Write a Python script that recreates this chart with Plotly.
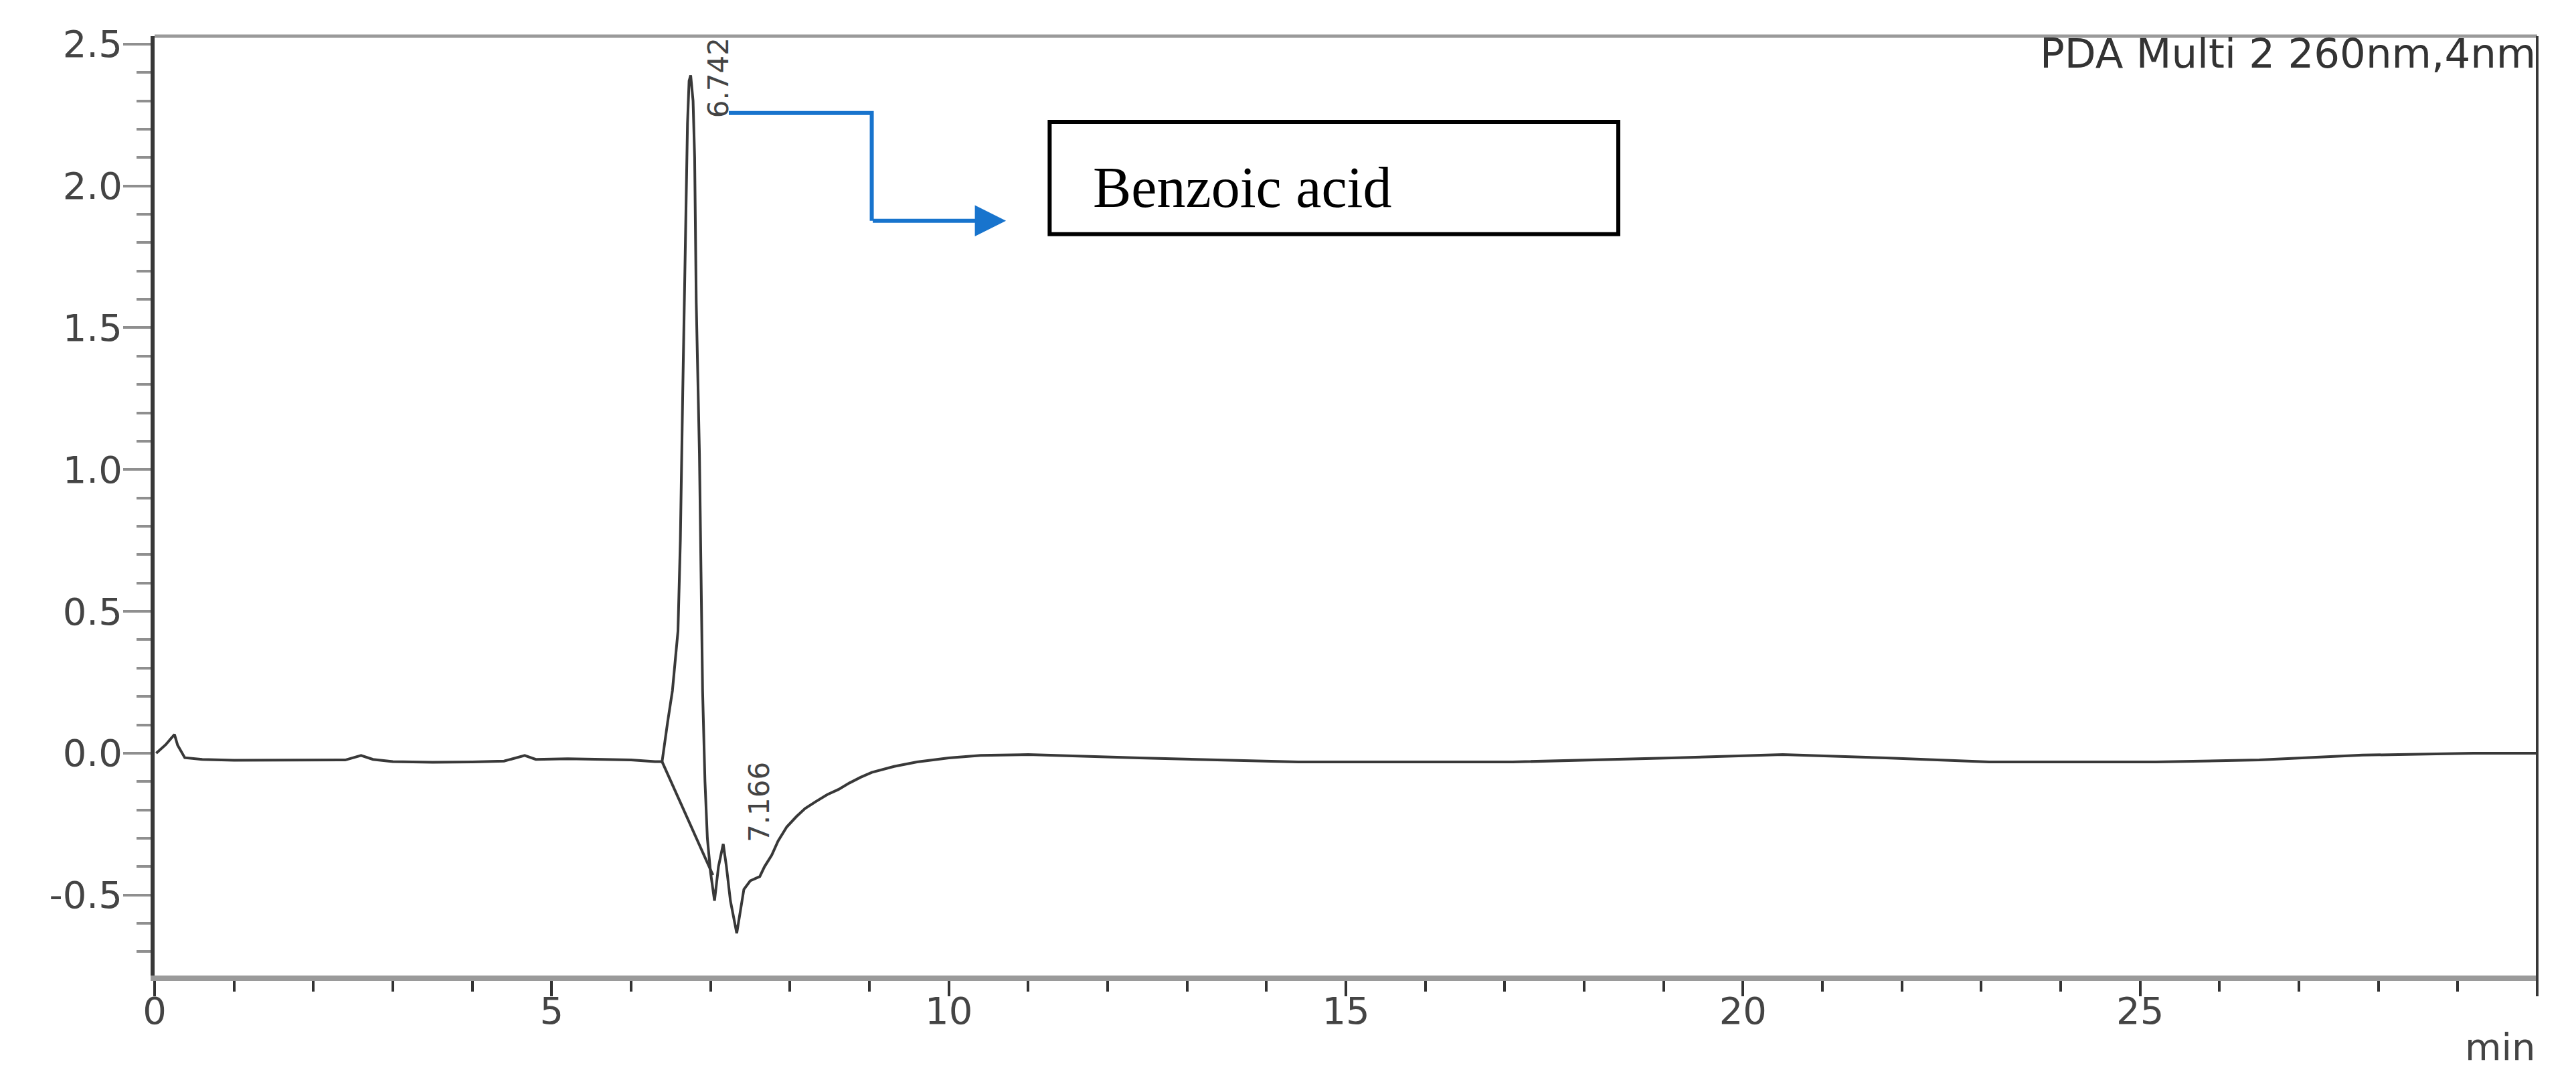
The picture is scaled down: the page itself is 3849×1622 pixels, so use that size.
import plotly.graph_objects as go

# ---- data ----
time_min = [0.02, 0.14, 0.25, 0.29, 0.38, 0.6, 1.0, 1.5, 2.0, 2.4, 2.6, 2.75, 3.0, 3.5, 4.0, 4.4,
            4.66, 4.8, 5.2, 5.6, 6.0, 6.3, 6.39, 6.46, 6.52, 6.59, 6.62, 6.65, 6.67, 6.69, 6.71,
            6.73, 6.75, 6.78, 6.80, 6.82, 6.86, 6.88, 6.90, 6.93, 6.96, 7.00, 7.05, 7.10, 7.16,
            7.20, 7.25, 7.33, 7.38, 7.42, 7.50, 7.62, 7.68, 7.77, 7.85, 7.96, 8.08, 8.19, 8.33,
            8.47, 8.61, 8.75, 8.89, 9.03, 9.31, 9.60, 10.0, 10.4, 11.0, 12.4, 14.4, 17.1, 19.1,
            20.5, 21.8, 23.1, 25.2, 26.5, 27.8, 29.2, 30.0]
signal_au = [0.0, 0.03, 0.066, 0.028, -0.016, -0.022, -0.025, -0.025, -0.026, -0.024, -0.008, -0.022,
             -0.030, -0.032, -0.031, -0.028, -0.008, -0.022, -0.020, -0.021, -0.024, -0.030, -0.030,
             0.11, 0.22, 0.43, 0.75, 1.27, 1.60, 1.91, 2.22, 2.37, 2.39, 2.30, 2.10, 1.59, 1.06,
             0.64, 0.22, -0.10, -0.30, -0.42, -0.52, -0.40, -0.32, -0.40, -0.52, -0.635, -0.55,
             -0.48, -0.45, -0.435, -0.40, -0.36, -0.31, -0.26, -0.224, -0.195, -0.17, -0.146,
             -0.128, -0.105, -0.085, -0.068, -0.047, -0.031, -0.017, -0.008, -0.005, -0.017,
             -0.031, -0.031, -0.017, -0.005, -0.017, -0.031, -0.031, -0.024, -0.007, 0.0, 0.0]

# integration baseline drawn under the main peak
baseline_time = [6.39, 7.03]
baseline_au = [-0.030, -0.43]

# peak labels (retention times)
peak_labels = ["6.742", "7.166"]

x_tick_vals = [0, 5, 10, 15, 20, 25, 30]
x_tick_text = ["0", "5", "10", "15", "20", "25", ""]
y_tick_vals = [-0.5, 0.0, 0.5, 1.0, 1.5, 2.0, 2.5]
y_tick_text = ["-0.5", "0.0", "0.5", "1.0", "1.5", "2.0", "2.5"]

TRACE = "#383838"
BLUE = "#1874CD"
TICKFONT = dict(family="DejaVu Sans", size=56, color="#444444")

fig = go.Figure()
fig.add_trace(go.Scatter(x=time_min, y=signal_au, mode="lines",
                         line=dict(color=TRACE, width=4), hoverinfo="skip", showlegend=False))
fig.add_trace(go.Scatter(x=baseline_time, y=baseline_au, mode="lines",
                         line=dict(color=TRACE, width=4), hoverinfo="skip", showlegend=False))

fig.update_layout(
    width=3849, height=1622,
    margin=dict(l=231, r=58, t=54, b=165),
    paper_bgcolor="white", plot_bgcolor="white",
    showlegend=False,
    xaxis=dict(range=[0, 30], tickmode="array", tickvals=x_tick_vals, ticktext=x_tick_text,
               ticks="outside", ticklen=23, tickwidth=4, tickcolor="#333333",
               minor=dict(tick0=0, dtick=1, ticks="outside", ticklen=16, tickwidth=4,
                          tickcolor="#333333", showgrid=False),
               showline=True, linecolor="#9a9a9a", linewidth=8, ticklabelstandoff=-26,
               showgrid=False, zeroline=False, tickfont=TICKFONT),
    yaxis=dict(range=[-0.784, 2.528], tickmode="array", tickvals=y_tick_vals, ticktext=y_tick_text,
               ticks="outside", ticklen=41, tickwidth=4, tickcolor="#8f8f8f",
               minor=dict(tick0=0, dtick=0.1, ticks="outside", ticklen=21, tickwidth=4,
                          tickcolor="#8f8f8f", showgrid=False),
               showline=True, linecolor="#383838", linewidth=6, ticklabelstandoff=-10,
               showgrid=False, zeroline=False, tickfont=TICKFONT),
)

shapes = [
    # top frame line
    dict(type="line", xref="paper", yref="paper", x0=0, x1=1, y0=1, y1=1,
         line=dict(color="#9a9a9a", width=5)),
    # right frame line
    dict(type="line", xref="paper", yref="paper", x0=1, x1=1, y0=-0.021, y1=1,
         line=dict(color="#383838", width=4)),
    # elbow connector of the callout
    dict(type="path", xref="x", yref="y", path="M 7.23,2.257 L 9.03,2.257 L 9.03,1.877",
         line=dict(color=BLUE, width=6)),
    # callout box
    dict(type="rect", xref="x", yref="y", x0=11.27, x1=18.43, y0=1.830, y1=2.226,
         line=dict(color="black", width=6), fillcolor="rgba(0,0,0,0)"),
]
fig.update_layout(shapes=shapes)

annotations = [
    dict(x=10.72, y=1.877, ax=9.03, ay=1.877, xref="x", yref="y", axref="x", ayref="y",
         text="", showarrow=True, arrowhead=2, arrowsize=1.55, arrowwidth=6, arrowcolor=BLUE),
    dict(x=11.80, y=1.995, xref="x", yref="y", xanchor="left", yanchor="middle",
         text="Benzoic acid", showarrow=False,
         font=dict(family="Liberation Serif", size=86, color="black")),
    dict(x=7.10, y=2.38, xref="x", yref="y", text=peak_labels[0], textangle=-90,
         showarrow=False, xanchor="center", yanchor="middle",
         font=dict(family="DejaVu Sans", size=42, color="#444444")),
    dict(x=7.62, y=-0.172, xref="x", yref="y", text=peak_labels[1], textangle=-90,
         showarrow=False, xanchor="center", yanchor="middle",
         font=dict(family="DejaVu Sans", size=42, color="#444444")),
    dict(x=1, y=1, xref="paper", yref="paper", xanchor="right", yanchor="top",
         text="PDA Multi 2 260nm,4nm", showarrow=False, yshift=12,
         font=dict(family="DejaVu Sans", size=61, color="#333333")),
    dict(x=1, y=0, xref="paper", yref="paper", xanchor="right", yanchor="top",
         text="min", showarrow=False, yshift=-72,
         font=dict(family="DejaVu Sans", size=56, color="#444444")),
]
fig.update_layout(annotations=annotations)

fig.write_html("out.html", config={"displayModeBar": False},
               post_script="document.body.style.margin='0';document.body.style.overflow='hidden';")
